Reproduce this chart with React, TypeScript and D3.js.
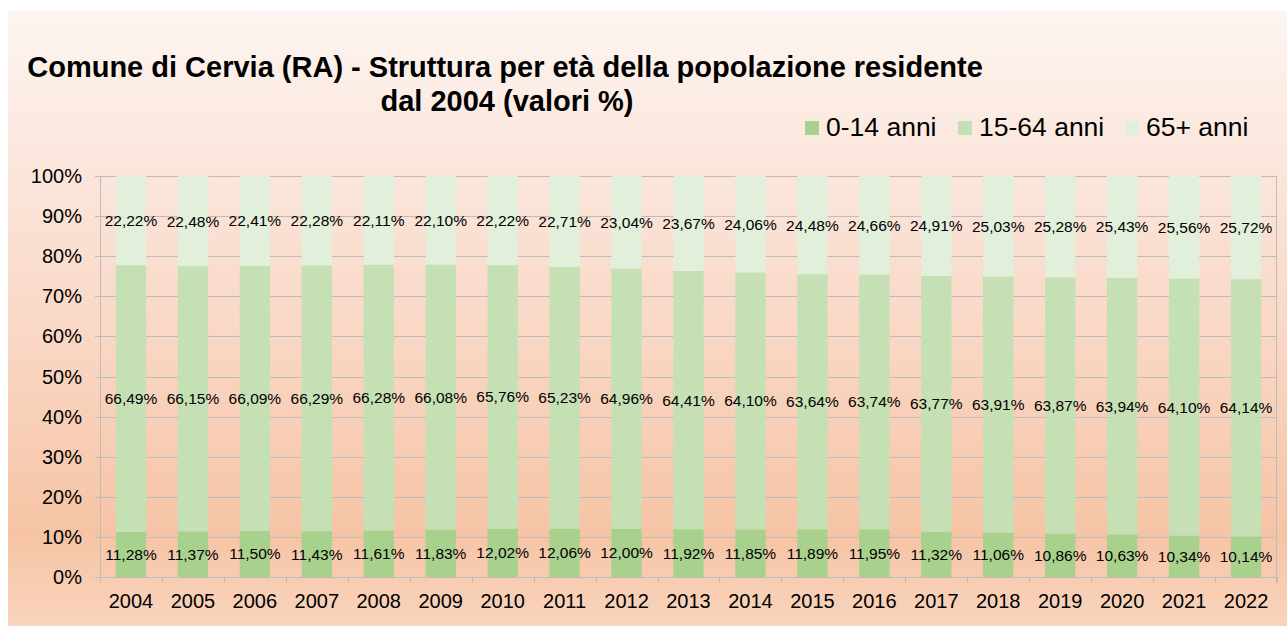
import { scaleBand, scaleLinear, stack, stackOffsetExpand, format } from "d3";

// chart data (values in %)
const years = [
  "2004", "2005", "2006", "2007", "2008", "2009", "2010", "2011", "2012", "2013",
  "2014", "2015", "2016", "2017", "2018", "2019", "2020", "2021", "2022",
];
const age0to14 = [
  11.28, 11.37, 11.5, 11.43, 11.61, 11.83, 12.02, 12.06, 12.0, 11.92,
  11.85, 11.89, 11.95, 11.32, 11.06, 10.86, 10.63, 10.34, 10.14,
];
const age15to64 = [
  66.49, 66.15, 66.09, 66.29, 66.28, 66.08, 65.76, 65.23, 64.96, 64.41,
  64.1, 63.64, 63.74, 63.77, 63.91, 63.87, 63.94, 64.1, 64.14,
];
const age65plus = [
  22.22, 22.48, 22.41, 22.28, 22.11, 22.1, 22.22, 22.71, 23.04, 23.67,
  24.06, 24.48, 24.66, 24.91, 25.03, 25.28, 25.43, 25.56, 25.72,
];
const seriesNames = ["0-14 anni", "15-64 anni", "65+ anni"];
const seriesColors = ["#a9d18e", "#c5e0b4", "#e2efda"];
const yTicks = [0, 0.1, 0.2, 0.3, 0.4, 0.5, 0.6, 0.7, 0.8, 0.9, 1];

const W = 1287;
const H = 626;
const plot = { left: 100, right: 1277, top: 176, bottom: 577 };
const font = "'Liberation Sans', Arial, sans-serif";
const gridColor = "#bcbcbc";

type Row = { year: string; a: number; b: number; c: number };
const rows: Row[] = years.map((year, i) => ({
  year,
  a: age0to14[i],
  b: age15to64[i],
  c: age65plus[i],
}));
const keys = ["a", "b", "c"] as const;

const fmt = (v: number) => format(".2f")(v).replace(".", ",") + "%";
const pct = (v: number) => Math.round(v * 100) + "%";

export default function App() {
  const x = scaleBand<string>()
    .domain(years)
    .range([plot.left, plot.right])
    .paddingInner(0.51)
    .paddingOuter(0.255);
  const y = scaleLinear().domain([0, 1]).range([plot.bottom, plot.top]);

  const stacked = stack<Row>()
    .keys(keys as unknown as string[])
    .offset(stackOffsetExpand)(rows);

  const step = x.step();
  const boundaries = years.map((_, i) => plot.left + i * step).concat(plot.right);

  const legendX = [805, 958, 1125];

  return (
    <div style={{ position: "absolute", left: 0, top: 0 }}>
      <svg width={W} height={H} style={{ display: "block" }} fontFamily={font}>
        <defs>
          <linearGradient id="bg" x1="0" y1="0" x2="0" y2="1">
            <stop offset="0" stopColor="#fdf5f1" />
            <stop offset="0.27" stopColor="#fbe5da" />
            <stop offset="0.55" stopColor="#f9d6c3" />
            <stop offset="0.85" stopColor="#f6c4a5" />
            <stop offset="1" stopColor="#f9d4bd" />
          </linearGradient>
        </defs>
        <rect x={8} y={11} width={W - 8} height={H - 11} fill="url(#bg)" />

        {/* title */}
        <text textAnchor="middle" fontWeight="bold" fontSize={29} fill="#000">
          <tspan x={505} y={77}>
            Comune di Cervia (RA) - Struttura per età della popolazione residente
          </tspan>
          <tspan x={507} y={111}>
            dal 2004 (valori %)
          </tspan>
        </text>

        {/* legend */}
        {seriesNames.map((name, i) => (
          <g key={name}>
            <rect x={legendX[i]} y={121} width={14} height={14} fill={seriesColors[i]} />
            <text x={legendX[i] + 21} y={136} fontSize={26.5} fill="#000">
              {name}
            </text>
          </g>
        ))}

        {/* gridlines + y axis labels */}
        {yTicks.map((t) => (
          <g key={t}>
            <line
              x1={plot.left - 5}
              x2={plot.right}
              y1={Math.round(y(t)) + 0.5}
              y2={Math.round(y(t)) + 0.5}
              stroke={gridColor}
              strokeWidth={1}
            />
            <text
              x={82}
              y={y(t)}
              textAnchor="end"
              dominantBaseline="central"
              fontSize={20}
              fill="#000"
            >
              {pct(t)}
            </text>
          </g>
        ))}

        {/* plot frame */}
        <line x1={plot.left + 0.5} x2={plot.left + 0.5} y1={plot.top} y2={plot.bottom} stroke={gridColor} />
        <line x1={plot.right - 0.5} x2={plot.right - 0.5} y1={plot.top} y2={plot.bottom + 6} stroke={gridColor} />

        {/* bars */}
        {stacked.map((layer, si) => (
          <g key={si} fill={seriesColors[si]}>
            {layer.map((d) => (
              <rect
                key={d.data.year}
                x={x(d.data.year)}
                y={y(d[1])}
                width={x.bandwidth()}
                height={y(d[0]) - y(d[1])}
              />
            ))}
          </g>
        ))}

        {/* x axis */}
        <line
          x1={plot.left}
          x2={plot.right}
          y1={plot.bottom + 0.5}
          y2={plot.bottom + 0.5}
          stroke={gridColor}
        />
        {boundaries.map((bx, i) => (
          <line
            key={i}
            x1={Math.round(bx) + 0.5}
            x2={Math.round(bx) + 0.5}
            y1={plot.bottom}
            y2={plot.bottom + 6}
            stroke={gridColor}
          />
        ))}
        {years.map((yr) => (
          <text
            key={yr}
            x={(x(yr) as number) + x.bandwidth() / 2}
            y={608}
            textAnchor="middle"
            fontSize={20}
            fill="#000"
          >
            {yr}
          </text>
        ))}

        {/* data labels */}
        {stacked.map((layer, si) => (
          <g key={"l" + si} fontSize={15.5} fill="#000" textAnchor="middle">
            {layer.map((d) => (
              <text
                key={d.data.year}
                x={(x(d.data.year) as number) + x.bandwidth() / 2}
                y={y((d[0] + d[1]) / 2)}
                dominantBaseline="central"
              >
                {fmt(d.data[keys[si]])}
              </text>
            ))}
          </g>
        ))}
      </svg>
    </div>
  );
}
